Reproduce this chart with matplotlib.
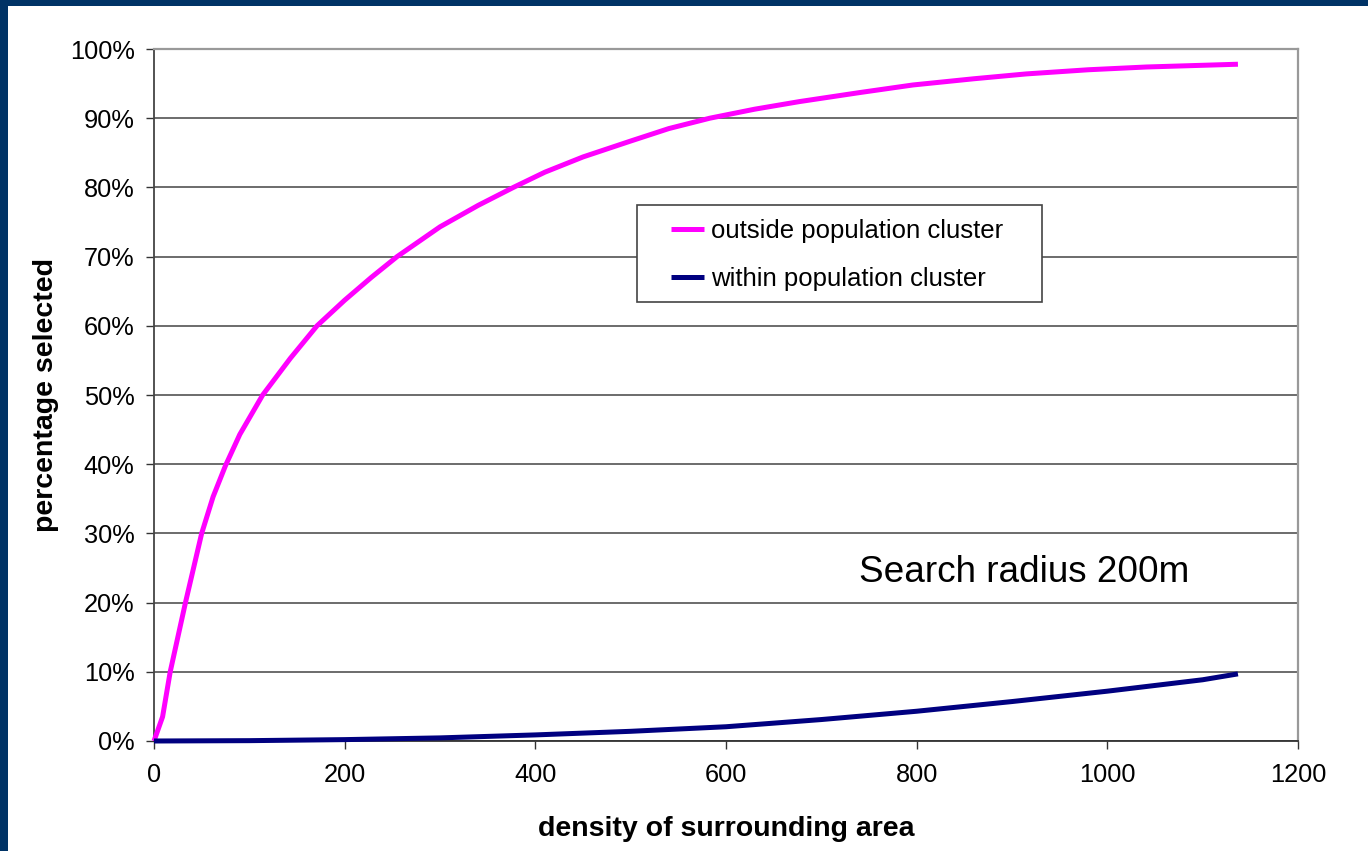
import matplotlib
matplotlib.use("Agg")
import matplotlib.pyplot as plt
from matplotlib.patches import Rectangle
from matplotlib.ticker import FuncFormatter

# values
outside_x = [0, 9, 17, 33, 50, 62, 75, 90, 114, 143, 171, 200, 228, 255, 300,
             340, 377, 410, 450, 500, 540, 583, 630, 677, 740, 796, 860, 915,
             980, 1041, 1137]
outside_pct = [0, 3.5, 10, 20, 30, 35.3, 39.8, 44.3, 50, 55.3, 60, 63.7, 67.0,
               70, 74.3, 77.4, 80, 82.2, 84.4, 86.7, 88.5, 90, 91.3, 92.4, 93.7,
               94.8, 95.7, 96.4, 97.0, 97.4, 97.8]

within_x = [0, 100, 200, 300, 400, 500, 600, 700, 800, 900, 1000, 1100, 1137]
within_pct = [0, 0.05, 0.2, 0.45, 0.88, 1.4, 2.06, 3.1, 4.3, 5.7, 7.2, 8.85, 9.7]

x_ticks = [0, 200, 400, 600, 800, 1000, 1200]
y_ticks = [0, 10, 20, 30, 40, 50, 60, 70, 80, 90, 100]

W, H = 1368, 851
FONT = "Liberation Sans"
NAVY = "#003366"


def main() -> None:
    plt.rcParams["font.family"] = [FONT, "DejaVu Sans"]
    fig = plt.figure(figsize=(W / 100, H / 100), dpi=100)
    fig.patch.set_facecolor("white")

    # navy strip on the left and the top edge
    fig.add_artist(Rectangle((0, 0), 7.5 / W, 1, transform=fig.transFigure,
                             facecolor=NAVY, edgecolor="none"))
    fig.add_artist(Rectangle((0, 1 - 6 / H), 1, 6 / H, transform=fig.transFigure,
                             facecolor=NAVY, edgecolor="none"))

    ax = fig.add_axes([154 / W, 1 - 741 / H, 1144 / W, 692 / H])
    ax.set_xlim(0, 1200)
    ax.set_ylim(0, 100)

    ax.plot(outside_x, outside_pct, color="#FF00FF", lw=3.6,
            solid_capstyle="butt", solid_joinstyle="round",
            label="outside population cluster", zorder=3, clip_on=False)
    ax.plot(within_x, within_pct, color="#000080", lw=3.6,
            solid_capstyle="butt", solid_joinstyle="round",
            label="within population cluster", zorder=3, clip_on=False)

    ax.set_xticks(x_ticks)
    ax.set_yticks(y_ticks)
    ax.yaxis.set_major_formatter(FuncFormatter(lambda v, _: f"{v:.0f}%"))
    ax.tick_params(axis="both", direction="out", length=6, width=1.0,
                   color="#333333", labelsize=18.3, labelcolor="black")
    ax.tick_params(axis="x", pad=10)
    ax.tick_params(axis="y", pad=8)
    ax.grid(axis="y", color="#444444", lw=1.1)
    ax.set_axisbelow(True)

    for side in ["top", "right"]:
        ax.spines[side].set_color("#999999")
        ax.spines[side].set_linewidth(1.6)
    ax.spines["left"].set_color("#444444")
    ax.spines["bottom"].set_color("#333333")
    ax.spines["left"].set_linewidth(1.3)
    ax.spines["bottom"].set_linewidth(1.3)

    ax.set_xlabel("density of surrounding area", fontsize=20.5, fontweight="bold")
    ax.set_ylabel("percentage selected", fontsize=20.5, fontweight="bold")
    ax.xaxis.set_label_coords(0.5, -0.108)
    ax.yaxis.set_label_coords(-0.083, 0.5)

    ax.text(740, 24.3, "Search radius 200m", fontsize=26.6, ha="left", va="center")

    # legend box drawn by hand so the padding matches the original
    ax.add_artist(Rectangle((637 / W, 1 - 302 / H), 405 / W, 97 / H,
                            transform=fig.transFigure, facecolor="white",
                            edgecolor="#444444", lw=1.2, zorder=4, clip_on=False))
    leg = ax.legend(loc="center left", bbox_to_anchor=(671 / W, 1 - 255 / H),
                    bbox_transform=fig.transFigure, frameon=False,
                    fontsize=18.5, handlelength=1.3, handletextpad=0.25,
                    borderpad=0, borderaxespad=0, labelspacing=0.92)
    leg.set_zorder(5)

    fig.savefig("out.png", dpi=100)
    plt.close(fig)


if __name__ == "__main__":
    main()
